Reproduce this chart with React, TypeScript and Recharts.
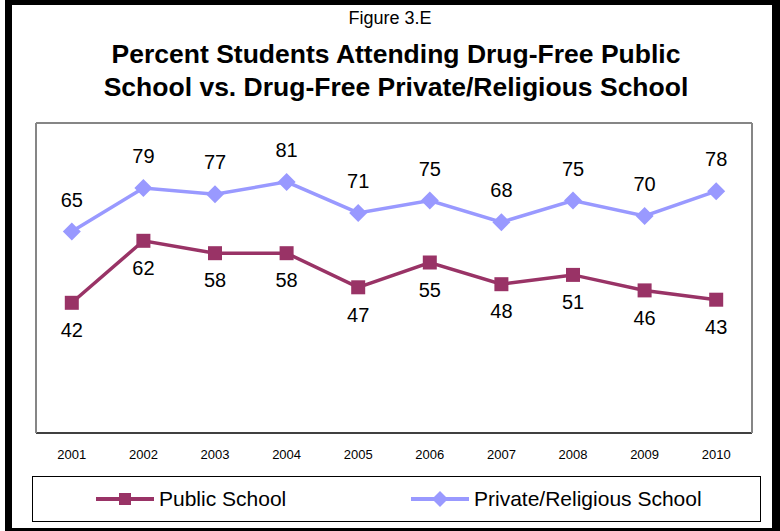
import { LabelList, Line, LineChart, XAxis, YAxis } from 'recharts';

const years = ['2001', '2002', '2003', '2004', '2005', '2006', '2007', '2008', '2009', '2010'];
const publicSchool = [42, 62, 58, 58, 47, 55, 48, 51, 46, 43];
const privateSchool = [65, 79, 77, 81, 71, 75, 68, 75, 70, 78];

const data = years.map((year, i) => ({
  i,
  year,
  publicSchool: publicSchool[i],
  privateSchool: privateSchool[i],
}));

const MAROON = '#993366';
const LAVENDER = '#9999FF';
const FONT = '"Liberation Sans", Arial, sans-serif';

const domain: [number, number] = [-0.5, years.length - 0.5];
const boundaryTicks = years.map((_, i) => i - 0.5).concat(years.length - 0.5);
const centerTicks = years.map((_, i) => i);

const Square = (props: any) => {
  const { cx, cy, index } = props;
  if (cx == null || cy == null) return <g key={index} />;
  return <rect key={index} x={cx - 7} y={cy - 7} width={14} height={14} fill={MAROON} />;
};

const Diamond = (props: any) => {
  const { cx, cy, index } = props;
  if (cx == null || cy == null) return <g key={index} />;
  return (
    <polygon
      key={index}
      points={`${cx},${cy - 9} ${cx + 9},${cy} ${cx},${cy + 9} ${cx - 9},${cy}`}
      fill={LAVENDER}
    />
  );
};

const LegendItem = ({ color, label, diamond }: { color: string; label: string; diamond?: boolean }) => (
  <div style={{ display: 'flex', alignItems: 'center' }}>
    <svg width={58} height={20}>
      <line x1={0} y1={10} x2={58} y2={10} stroke={color} strokeWidth={4} />
      {diamond ? (
        <polygon points="29,2 37,10 29,18 21,10" fill={color} />
      ) : (
        <rect x={23} y={4} width={12} height={12} fill={color} />
      )}
    </svg>
    <span style={{ marginLeft: 5 }}>{label}</span>
  </div>
);

const App = () => {
  return (
    <div
      style={{
        position: 'absolute',
        left: 0,
        top: 0,
        width: 780,
        height: 531,
        background: '#fff',
        fontFamily: FONT,
      }}
    >
      <div
        style={{
          position: 'absolute',
          left: 5,
          top: 0,
          width: 775,
          height: 531,
          boxSizing: 'border-box',
          borderStyle: 'solid',
          borderColor: '#000',
          borderWidth: '5px 8px 3px 7px',
        }}
      />
      <div
        style={{
          position: 'absolute',
          left: 0,
          top: 7,
          width: 780,
          textAlign: 'center',
          fontSize: 18,
          lineHeight: '22px',
        }}
      >
        Figure 3.E
      </div>
      <div
        style={{
          position: 'absolute',
          left: 0,
          top: 38,
          width: 792,
          textAlign: 'center',
          fontSize: 26.5,
          fontWeight: 'bold',
          lineHeight: '33px',
        }}
      >
        Percent Students Attending Drug-Free Public
        <br />
        School vs. Drug-Free Private/Religious School
      </div>

      <div style={{ position: 'absolute', left: 0, top: 0 }}>
        <LineChart width={780} height={475} data={data} margin={{ top: 122, right: 27, bottom: 15, left: 35 }}>
          <XAxis
            xAxisId="top"
            orientation="top"
            dataKey="i"
            type="number"
            domain={domain}
            height={1}
            tick={false}
            tickLine={false}
            axisLine={{ stroke: '#868686', strokeWidth: 2 }}
          />
          <XAxis
            xAxisId="b"
            dataKey="i"
            type="number"
            domain={domain}
            ticks={boundaryTicks}
            height={1}
            tick={false}
            tickSize={4}
            tickLine={{ stroke: '#000' }}
            axisLine={{ stroke: '#000', strokeWidth: 1.5 }}
          />
          <XAxis
            xAxisId="lbl"
            dataKey="i"
            type="number"
            domain={domain}
            ticks={centerTicks}
            height={26}
            tickFormatter={(v) => years[v]}
            tick={{ fill: '#000', fontSize: 13, fontFamily: FONT }}
            tickMargin={10}
            tickLine={false}
            axisLine={false}
          />
          <YAxis
            yAxisId="l"
            domain={[0, 100]}
            width={1}
            tick={false}
            tickLine={false}
            axisLine={{ stroke: '#868686', strokeWidth: 2 }}
          />
          <YAxis
            yAxisId="r"
            orientation="right"
            domain={[0, 100]}
            width={1}
            tick={false}
            tickLine={false}
            axisLine={{ stroke: '#868686', strokeWidth: 2 }}
          />
          <Line
            xAxisId="lbl"
            yAxisId="l"
            type="linear"
            dataKey="publicSchool"
            stroke={MAROON}
            strokeWidth={3.5}
            dot={Square}
            activeDot={false}
            isAnimationActive={false}
          >
            <LabelList
              dataKey="publicSchool"
              position="bottom"
              offset={20}
              fill="#000"
              fontSize={20}
              fontFamily={FONT}
            />
          </Line>
          <Line
            xAxisId="lbl"
            yAxisId="l"
            type="linear"
            dataKey="privateSchool"
            stroke={LAVENDER}
            strokeWidth={3.5}
            dot={Diamond}
            activeDot={false}
            isAnimationActive={false}
          >
            <LabelList
              dataKey="privateSchool"
              position="top"
              offset={25}
              fill="#000"
              fontSize={20}
              fontFamily={FONT}
            />
          </Line>
        </LineChart>
      </div>

      <div
        style={{
          position: 'absolute',
          left: 32,
          top: 476,
          width: 729,
          height: 46,
          boxSizing: 'border-box',
          border: '1px solid #000',
          fontSize: 21,
          display: 'flex',
          alignItems: 'center',
        }}
      >
        <div style={{ position: 'absolute', left: 63 }}>
          <LegendItem color={MAROON} label="Public School" />
        </div>
        <div style={{ position: 'absolute', left: 378 }}>
          <LegendItem color={LAVENDER} label="Private/Religious School" diamond />
        </div>
      </div>
    </div>
  );
};

export default App;
